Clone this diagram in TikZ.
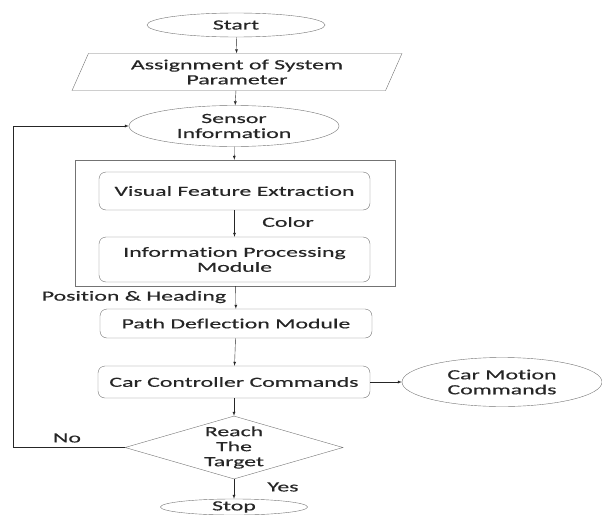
\documentclass[tikz,border=0pt]{standalone}
\usepackage{fontspec}
\setmainfont[FakeStretch=1.7, FakeBold=0.4, Ligatures=NoCommon]{Carlito}
\usetikzlibrary{shapes,arrows,positioning}

\begin{document}
\begin{tikzpicture}[
    x=1pt, y=-1pt,
    font=\fontsize{14}{15}\selectfont, text=black!85,
    terminal/.style={ellipse, draw=black!55, thin, inner sep=0pt, align=center},
    io/.style={trapezium, trapezium left angle=69, trapezium right angle=111, trapezium stretches=true, draw=black!55, thin, minimum width=331pt, minimum height=37pt, align=center},
    process/.style={rectangle, rounded corners=7pt, draw=black!55, thin, minimum width=271pt, align=center},
    decision/.style={diamond, aspect=3.46, draw=black!55, thin, inner sep=0pt, minimum width=218pt, minimum height=63pt, align=center},
    group/.style={rectangle, draw=black!55, thin, minimum width=320pt, minimum height=126pt},
    line/.style={draw=black!85, thin, -latex}
]
\useasboundingbox (0,0) rectangle (602,514);

% Main column
\node [terminal, minimum width=178pt, minimum height=24pt] (start) at (236,25) {Start};
\node [io] (assign) at (237,72) {Assignment of System\\Parameter};
\node [terminal, minimum width=210pt, minimum height=41pt] (sensor) at (234,126) {Sensor\\Information};
\node [group] (module) at (235,223) {};
\node [process, minimum height=38pt] (visual) at (234.5,191) {Visual Feature Extraction};
\node [process, minimum height=45pt] (info) at (234.5,259.5) {Information Processing\\Module};
\node [process, minimum width=272pt, minimum height=29pt] (path) at (236,323.5) {Path Deflection Module};
\node [process, minimum width=272pt, minimum height=32pt] (ctrl) at (234,382) {Car Controller Commands};
\node [terminal, minimum width=200pt, minimum height=49pt] (motion) at (502,382) {Car Motion\\Commands};
\node [decision] (reach) at (234,447.5) {Reach\\The\\Target};
\node [terminal, minimum width=147pt, minimum height=16pt] (stop) at (234,507) {Stop};

% Labels
\node (color) at (288,222) {Color};
\node (pose) at (134,297) {Position \& Heading};
\node (no) at (67,438) {No};
\node (yes) at (283,487) {Yes};

% Connectors
\draw [line] (start) -- (assign);
\draw [line] (assign) -- (sensor);
\draw [line] (sensor) -- (module);
\draw [line] (visual) -- (info);
\draw [line] (module) -- (path);
\draw [line] (path) -- (ctrl);
\draw [line] (ctrl) -- (motion);
\draw [line] (ctrl) -- (reach);
\draw [line] (reach) -- (stop);
\coordinate (back) at (13,447.5);
\draw [line] (reach.west) -- (back) |- (sensor.west);

\end{tikzpicture}
\end{document}
